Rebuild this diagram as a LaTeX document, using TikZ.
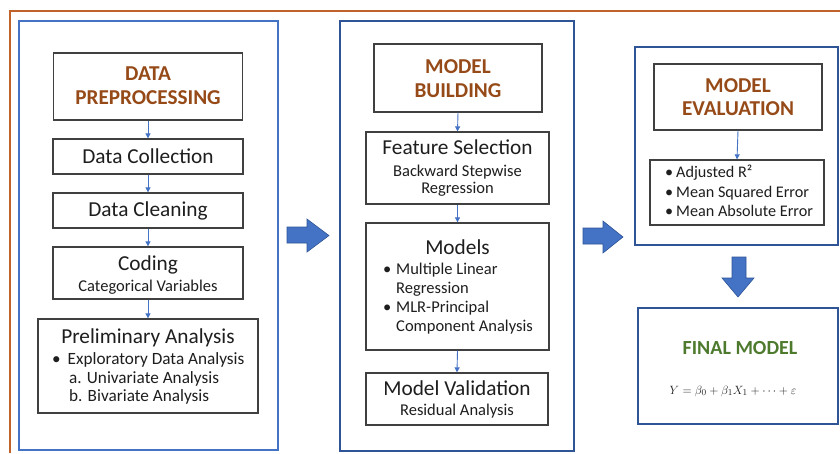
\documentclass[tikz,border=0pt]{standalone}
\usepackage{fontspec}
\setmainfont{Carlito}
\usetikzlibrary{arrows.meta}

\definecolor{framebrown}{RGB}{192,98,44}
\definecolor{titlebrown}{RGB}{150,74,24}
\definecolor{paneblue}{RGB}{68,114,196}
\definecolor{panedark}{RGB}{47,85,151}
\definecolor{boxgray}{RGB}{64,64,64}
\definecolor{inkgray}{RGB}{30,30,30}
\definecolor{finalgreen}{RGB}{78,122,46}

\newcommand{\fsMain}{\fontsize{21.3}{25}\selectfont}
\newcommand{\fsSub}{\fontsize{16.5}{19}\selectfont}
\newcommand{\fsPre}{\fontsize{17.2}{20}\selectfont}
\newcommand{\fsList}{\fontsize{16.2}{19}\selectfont}
\newcommand{\fsHead}{\fontsize{21.2}{25}\selectfont\bfseries}

\tikzset{
  panel/.style={draw=panedark, line width=2.2pt, fill=white},
  panelight/.style={draw=paneblue, line width=2.2pt, fill=white},
  stagebox/.style={draw=boxgray, line width=1.3pt, fill=white, inner sep=0pt},
  txt/.style={inner sep=0pt, text=inkgray},
  head/.style={inner sep=0pt, text=titlebrown, font=\fsHead},
  flow/.style={draw=paneblue, line width=0.9pt, -{Triangle[length=5pt,width=5pt]}},
  blockarrow/.style={fill=paneblue, draw=panedark, line width=0.6pt},
}

\begin{document}
\begin{tikzpicture}[x=1pt,y=-1pt]
\useasboundingbox (0,0) rectangle (840,453);
\fill[white] (0,0) rectangle (840,453);

% outer frame (left and top edges)
\draw[framebrown, line width=1.6pt] (10,453) -- (10,11) -- (840,11);

% ---------------- data preprocessing panel ----------------
\node[panelight, minimum width=259pt, minimum height=429pt] (p1) at (148.5,235.5) {};

\node[stagebox, minimum width=189pt, minimum height=67pt] (dp) at (148,86.5) {};
\node[head, anchor=base] (dpA) at (148,80) {DATA};
\node[head, anchor=base] (dpB) at (148,104) {PREPROCESSING};

\node[stagebox, minimum width=190pt, minimum height=35pt] (dc) at (148,156.5) {};
\node[txt, font=\fsMain, anchor=base] (dcT) at (148,163) {Data Collection};

\node[stagebox, minimum width=190pt, minimum height=35pt] (dcl) at (148,210.5) {};
\node[txt, font=\fsMain, anchor=base] (dclT) at (148,216) {Data Cleaning};

\node[stagebox, minimum width=190pt, minimum height=52pt] (cod) at (148,273) {};
\node[txt, font=\fsMain, anchor=base] (codT) at (148,270) {Coding};
\node[txt, font=\fsSub, anchor=base] (codS) at (148,291) {Categorical Variables};

\node[stagebox, minimum width=220pt, minimum height=94pt] (pre) at (148,366) {};
\node[txt, font=\fsMain, anchor=base] (preT) at (148,343) {Preliminary Analysis};
\node[txt, font=\fsPre, anchor=base west] (preB) at (52,364) {•\hspace{7pt}Exploratory Data Analysis};
\node[txt, font=\fsPre, anchor=base west] (preU) at (69,383) {a. Univariate Analysis};
\node[txt, font=\fsPre, anchor=base west] (preV) at (69,401) {b. Bivariate Analysis};

\draw[flow] (dp.south) -- (dc.north);
\draw[flow] (dc.south) -- (dcl.north);
\draw[flow] (dcl.south) -- (cod.north);
\draw[flow] (cod.south) -- (pre.north);

% ---------------- model building panel ----------------
\node[panel, minimum width=234pt, minimum height=430pt] (p2) at (457,236) {};

\node[stagebox, minimum width=168pt, minimum height=68pt] (mb) at (458,78) {};
\node[head, anchor=base] (mbA) at (458,73) {MODEL};
\node[head, anchor=base] (mbB) at (458,97) {BUILDING};

\node[stagebox, minimum width=183pt, minimum height=72pt] (fs) at (457.5,168) {};
\node[txt, font=\fsMain, anchor=base] (fsT) at (457.5,154) {Feature Selection};
\node[txt, font=\fsSub, anchor=base] (fsS1) at (457.5,176) {Backward Stepwise};
\node[txt, font=\fsSub, anchor=base] (fsS2) at (457.5,193) {Regression};

\node[stagebox, minimum width=183pt, minimum height=127pt] (mod) at (457.5,286.5) {};
\node[txt, font=\fsMain, anchor=base] (modT) at (457.5,254) {Models};
\node[txt, font=\fsSub, anchor=base west] (modB1) at (383,274) {•};
\node[txt, font=\fsSub, anchor=base west] (modL1) at (396,274) {Multiple Linear};
\node[txt, font=\fsSub, anchor=base west] (modL2) at (396,293) {Regression};
\node[txt, font=\fsSub, anchor=base west] (modB2) at (383,312) {•};
\node[txt, font=\fsSub, anchor=base west] (modL3) at (396,312) {MLR-Principal};
\node[txt, font=\fsSub, anchor=base west] (modL4) at (396,331) {Component Analysis};

\node[stagebox, minimum width=182pt, minimum height=52pt] (mv) at (457,399) {};
\node[txt, font=\fsMain, anchor=base] (mvT) at (457,395) {Model Validation};
\node[txt, font=\fsSub, anchor=base] (mvS) at (457,415) {Residual Analysis};

\draw[flow] (mb.south) -- (fs.north);
\draw[flow] (fs.south) -- (mod.north);
\draw[flow] (mod.south) -- (mv.north);

% ---------------- model evaluation panel ----------------
\node[panel, minimum width=203pt, minimum height=198pt] (p3) at (736.5,146) {};

\node[stagebox, minimum width=168pt, minimum height=66pt] (me) at (738,97) {};
\node[head, anchor=base] (meA) at (738,92) {MODEL};
\node[head, anchor=base] (meB) at (738,115) {EVALUATION};

\node[stagebox, minimum width=174pt, minimum height=65pt] (met) at (737,192.5) {};
\node[txt, font=\fsList, anchor=base west] (metB1) at (665,177) {•};
\node[txt, font=\fsList, anchor=base west] (metL1) at (676,177) {Adjusted R²};
\node[txt, font=\fsList, anchor=base west] (metB2) at (665,197) {•};
\node[txt, font=\fsList, anchor=base west] (metL2) at (676,197) {Mean Squared Error};
\node[txt, font=\fsList, anchor=base west] (metB3) at (665,216) {•};
\node[txt, font=\fsList, anchor=base west] (metL3) at (676,216) {Mean Absolute Error};

\draw[flow] (me.south) -- (met.north);

% ---------------- final model ----------------
\node[panel, minimum width=200pt, minimum height=116pt] (fm) at (738,366) {};
\node[inner sep=0pt, text=finalgreen, font=\fontsize{20}{24}\selectfont\bfseries, anchor=base] (fmT) at (740,354) {FINAL MODEL};
\node[txt, font=\fontsize{12.5}{15}\selectfont, anchor=base] (fmE) at (733,394)
  {$Y = \beta_0 + \beta_1 X_1 + \cdots + \varepsilon$};

% ---------------- block arrows between stages ----------------
\fill[blockarrow] (287,227) -- (307,227) -- (307,219) -- (329,235.5)
  -- (307,252) -- (307,243) -- (287,243) -- cycle;
\fill[blockarrow] (583,228) -- (603,228) -- (603,221) -- (623,237)
  -- (603,253) -- (603,244) -- (583,244) -- cycle;
\fill[blockarrow] (732,257) -- (746,257) -- (746,278) -- (754,278)
  -- (738,297) -- (722,278) -- (732,278) -- cycle;
\end{tikzpicture}
\end{document}
